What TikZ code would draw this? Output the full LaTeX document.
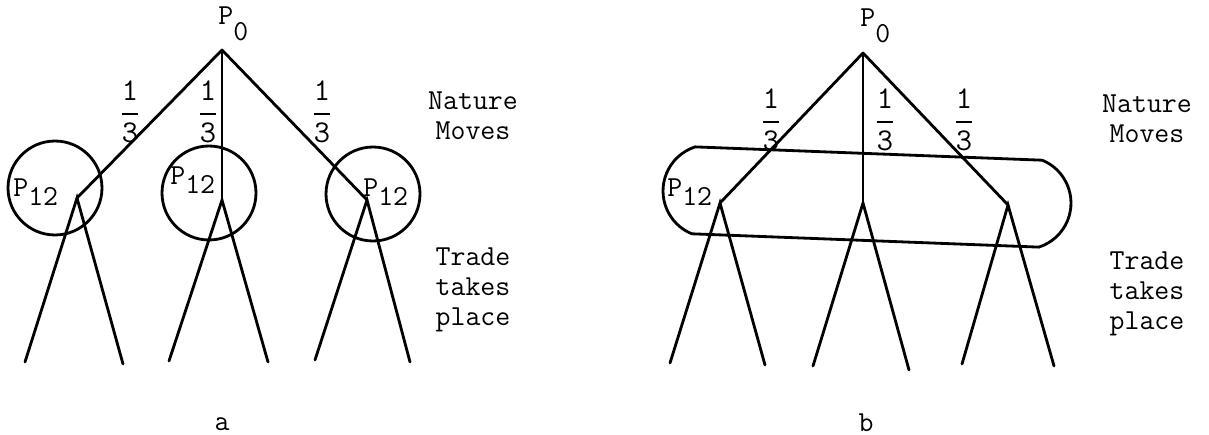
\documentclass[tikz,border=0pt]{standalone}
\usepackage{amsmath}
\usepackage{fontspec}
\usetikzlibrary{shapes.misc}

\newcommand{\lowsub}[2]{P\raisebox{-#1}{#2}}
\newcommand{\third}{$\genfrac{}{}{1.1pt}{0}{\mathtt{1}}{\mathtt{3}}$}

\begin{document}
\begin{tikzpicture}[x=0.02cm, y=-0.02cm,
    branch/.style={line width=1.6pt, line cap=round},
    nest/.style={draw, circle, line width=1.6pt, minimum size=1.88cm, inner sep=0pt},
    txt/.style={font=\ttfamily\fontsize{16.5}{17}\selectfont, inner sep=0pt},
    prob/.style={font=\ttfamily\fontsize{18}{17}\selectfont, inner sep=0pt}
  ]
    %% FRAME
    \useasboundingbox (0,0) rectangle (1209,435);

    %% TREE a
    \coordinate (a0) at (222,50);
    \coordinate (a1) at (77,198);
    \coordinate (a2) at (222,200);
    \coordinate (a3) at (367,200);
    \coordinate (a11) at (25,362);
    \coordinate (a12) at (123,364);
    \coordinate (a21) at (169,361);
    \coordinate (a22) at (268,362);
    \coordinate (a31) at (315,360);
    \coordinate (a32) at (410,362);

    \draw[branch] (a0) -- (a1);
    \draw[branch] (a0) -- (a2);
    \draw[branch] (a0) -- (a3);
    \draw[branch] (a11) -- (a1) -- (a12);
    \draw[branch] (a21) -- (a2) -- (a22);
    \draw[branch] (a31) -- (a3) -- (a32);

    %% INFORMATION SETS a
    \node[nest] (ca1) at (55,188) {};
    \node[nest] (ca2) at (209,193) {};
    \node[nest] (ca3) at (373,194) {};

    %% TREE b
    \coordinate (b0) at (863,53);
    \coordinate (b1) at (720,203);
    \coordinate (b2) at (863,203);
    \coordinate (b3) at (1008,205);
    \coordinate (b11) at (670,363);
    \coordinate (b12) at (765,365);
    \coordinate (b21) at (813,366);
    \coordinate (b22) at (909,370);
    \coordinate (b31) at (962,364);
    \coordinate (b32) at (1054,366);

    \draw[branch] (b0) -- (b1);
    \draw[branch] (b0) -- (b2);
    \draw[branch] (b0) -- (b3);
    \draw[branch] (b11) -- (b1) -- (b12);
    \draw[branch] (b21) -- (b2) -- (b22);
    \draw[branch] (b31) -- (b3) -- (b32);

    %% INFORMATION SET b
    \node[draw, rounded rectangle, rounded rectangle arc length=140,
          line width=1.6pt, minimum width=8.4cm, minimum height=1.74cm,
          rotate=-2.2] (cb) at (867,197) {};

    %% PLAYER LABELS
    \node[txt, anchor=base west] (pa0) at (218,25) {\lowsub{0.55em}{0}};
    \node[txt, anchor=base west] (pa1) at (13,197) {\lowsub{0.3em}{12}};
    \node[txt, anchor=base west] (pa2) at (170,185) {\lowsub{0.3em}{12}};
    \node[txt, anchor=base west] (pa3) at (363,197) {\lowsub{0.3em}{12}};
    \node[txt, anchor=base west] (pb0) at (860,27) {\lowsub{0.55em}{0}};
    \node[txt, anchor=base west] (pb1) at (667,197) {\lowsub{0.3em}{12}};

    %% PROBABILITIES
    \node[prob] (fa1) at (130,112) {\third};
    \node[prob] (fa2) at (208,112) {\third};
    \node[prob] (fa3) at (322,112) {\third};
    \node[prob] (fb1) at (771,120) {\third};
    \node[prob] (fb2) at (885,120) {\third};
    \node[prob] (fb3) at (964,120) {\third};

    %% STAGE NOTES
    \node[txt, align=center] (nma) at (473,116) {Nature\\Moves};
    \node[txt, align=center] (tpa) at (473,290) {Trade\\takes\\place};
    \node[txt, align=center] (nmb) at (1147,119) {Nature\\Moves};
    \node[txt, align=center] (tpb) at (1147,294) {Trade\\takes\\place};

    %% CAPTIONS
    \node[txt, anchor=base] (capa) at (222,430) {a};
    \node[txt, anchor=base] (capb) at (866,431) {b};
\end{tikzpicture}
\end{document}
